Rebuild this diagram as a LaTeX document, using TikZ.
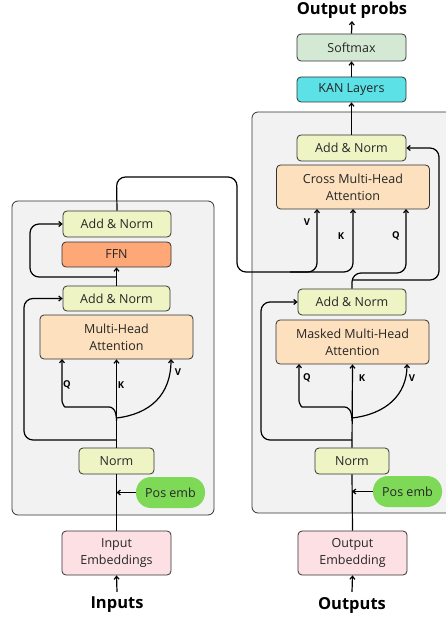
\documentclass[tikz,border=0pt]{standalone}
\usepackage{fontspec}
\setmainfont{Open Sans}
\usetikzlibrary{arrows.meta}
\definecolor{normcol}{HTML}{EFF4C4}
\definecolor{attcol}{HTML}{FDE0BD}
\definecolor{ffncol}{HTML}{FFA877}
\definecolor{embcol}{HTML}{FCE0E3}
\definecolor{poscol}{HTML}{7ED957}
\definecolor{kancol}{HTML}{5CE1E6}
\definecolor{softcol}{HTML}{D4E9D4}
\definecolor{bgcol}{HTML}{F2F2F2}
\definecolor{edgecol}{HTML}{333333}

\begin{document}
\begin{tikzpicture}[x=1pt,y=-1pt,
  box/.style={draw=edgecol,line width=0.8pt,rounded corners=4pt,font=\fontsize{12.5}{17}\selectfont,align=center,inner sep=0pt,text=black!85},
  normbox/.style={box,fill=normcol,minimum width=108pt,minimum height=26pt},
  attbox/.style={box,fill=attcol,minimum width=153pt,minimum height=44pt},
  embbox/.style={box,fill=embcol,minimum width=109pt,minimum height=44pt},
  posbox/.style={fill=poscol,rounded corners=15pt,minimum width=69pt,minimum height=31pt,font=\fontsize{12.5}{15}\selectfont,inner sep=0pt,text=black!85},
  qkv/.style={font=\bfseries\fontsize{9.5}{11}\selectfont,inner sep=0pt},
  big/.style={font=\bfseries\fontsize{16.5}{19}\selectfont,inner sep=0pt},
  wire/.style={line width=1.2pt,rounded corners=9pt},
  arr/.style={wire,-{Straight Barb[length=3pt,width=5pt]}}]
\useasboundingbox (0,0) rectangle (446,617);
\clip (0,0) rectangle (446,617);

% encoder block
\draw[draw=edgecol,fill=bgcol,line width=0.8pt,rounded corners=6pt] (12,201) rectangle (214,515);
\node[normbox] (addA) at (117,224) {Add \& Norm};
\node[box,fill=ffncol,minimum width=109pt,minimum height=25pt] (ffn) at (116.5,254.5) {FFN};
\node[normbox,minimum width=107pt,minimum height=25pt] (addB) at (116.5,298.5) {Add \& Norm};
\node[attbox] (mha) at (116.5,337) {Multi-Head\\Attention};
\node[normbox,minimum width=75pt] (normE) at (116.5,461) {Norm};
\node[posbox] (posE) at (170.5,492.5) {Pos emb};
\node[embbox] (embE) at (116.5,553) {Input\\Embeddings};
\node[big] (inputs) at (117,605) {Inputs};
\coordinate (splitE) at (116.5,440);
\coordinate (ffnE) at (116.5,277);

\draw[arr] (inputs.north) ++(0,-5) -- (embE.south);
\draw[wire] (embE.north) -- (normE.south);
\draw[arr] (posE.west) -- (116.5,492.5);
\draw[arr] (normE.north) -- (mha.south);
\draw[arr] (splitE) -- (24,440) -- (24,298.5) -- (addB.west);
\draw[arr] (116.5,421) .. controls (116.5,409) and (112,407) .. (100,407) -- (74,407) .. controls (64,407) and (62,402) .. (62,392) -- (62,359);
\draw[arr] (116.5,418) .. controls (150,414) and (171,395) .. (171,359);
\draw[arr] (addB.north) -- (ffn.south);
\draw[arr] (ffnE) -- (30,277) -- (30,224) -- (addA.west);
\node[qkv] (qE) at (67,385) {Q};
\node[qkv] (kE) at (121,385) {K};
\node[qkv] (vE) at (178,372) {V};

% decoder block
\draw[draw=edgecol,fill=bgcol,line width=0.8pt,rounded corners=6pt] (252,112) rectangle (460,513);
\node[normbox,minimum width=109pt] (addC) at (351.5,148) {Add \& Norm};
\node[attbox] (cma) at (353,187) {Cross Multi-Head\\Attention};
\node[normbox] (addD) at (352,302) {Add \& Norm};
\node[attbox] (mmha) at (352.5,342) {Masked Multi-Head\\Attention};
\node[normbox,minimum width=74pt] (normD) at (352,461) {Norm};
\node[posbox] (posD) at (407.5,491.5) {Pos emb};
\node[embbox] (embD) at (352.5,553) {Output\\Embedding};
\node[big] (outputs) at (352,605) {Outputs};
\node[box,fill=kancol,minimum width=109pt,minimum height=25pt] (kan) at (351.5,89.5) {KAN Layers};
\node[box,fill=softcol,minimum width=109pt,minimum height=27pt] (soft) at (351.5,47.5) {Softmax};
\node[big] (probs) at (352,10) {Output probs};
\coordinate (splitD) at (352,440);

\draw[arr] (outputs.north) ++(0,-5) -- (embD.south);
\draw[wire] (embD.north) -- (normD.south);
\draw[arr] (posD.west) -- (352,491.5);
\draw[arr] (normD.north) -- (mmha.south);
\draw[arr] (splitD) -- (261,440) -- (261,302) -- (addD.west);
\draw[arr] (352,421) .. controls (352,409) and (347.5,407) .. (335.5,407) -- (311,407) .. controls (301,407) and (299,402) .. (299,392) -- (299,364);
\draw[arr] (352,418) .. controls (386,414) and (407,395) .. (407,364);
\draw[arr] (addD.north) -- (352,273) -- (406,273) -- (406,209);
\draw[arr] (352,280) -- (439,280) -- (439,148) -- (addC.east);
\draw[arr] (addA.north) -- (116.5,177) -- (237,177) -- (237,272) -- (353,272) -- (353,209);
\draw[arr] (290,272) -- (317,272) -- (317,209);
\node[qkv] (vC) at (307,222) {V};
\node[qkv] (kC) at (341,236) {K};
\node[qkv] (qC) at (396,236) {Q};
\node[qkv] (qD) at (307,378) {Q};
\node[qkv] (kD) at (362,378) {K};
\node[qkv] (vD) at (412,378) {V};

\draw[arr] (addC.north) -- (kan.south);
\draw[arr] (kan.north) -- (soft.south);
\draw[arr] (soft.north) -- (352,21);
\end{tikzpicture}
\end{document}
